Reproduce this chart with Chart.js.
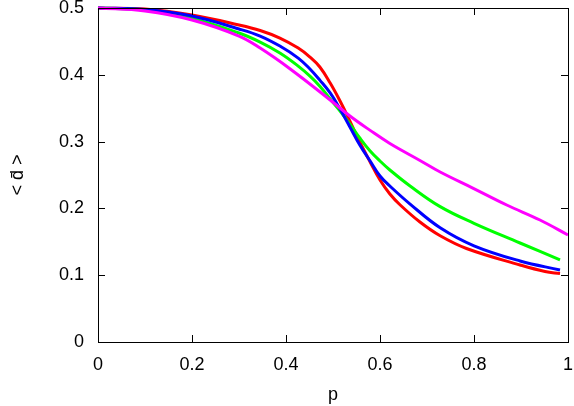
<!DOCTYPE html>
<html>
<head>
<meta charset="utf-8">
<script src="https://cdn.jsdelivr.net/npm/chart.js@4.4.1/dist/chart.umd.min.js"></script>
<style>
  html, body { margin: 0; padding: 0; background: #fff; }
  #wrap { width: 574px; height: 406px; }
</style>
</head>
<body>
<div id="wrap"><canvas id="grafico"></canvas></div>
<script>
// red curve
const pRojo = [0, 0.1, 0.2, 0.3, 0.345, 0.387, 0.426, 0.451, 0.472, 0.494, 0.515, 0.536,
  0.557, 0.579, 0.6, 0.621, 0.643, 0.685, 0.728, 0.784, 0.898, 0.951, 0.983];
const dRojo = [0.500, 0.4985, 0.4895, 0.4746, 0.4663, 0.455, 0.440, 0.4266, 0.4117, 0.3877,
  0.3608, 0.3308, 0.2994, 0.2695, 0.2425, 0.2216, 0.2051, 0.1796, 0.159, 0.140, 0.1153,
  0.1055, 0.1025];

// blue and green share the same p samples
const pAzulVerde = [0, 0.1, 0.2, 0.3, 0.345, 0.387, 0.426, 0.451, 0.472, 0.494, 0.515, 0.536,
  0.557, 0.579, 0.6, 0.621, 0.664, 0.728, 0.8, 0.898, 0.983];
const dAzul = [0.500, 0.4978, 0.488, 0.4686, 0.458, 0.443, 0.425, 0.4087, 0.392, 0.3728,
  0.3488, 0.3219, 0.2949, 0.2710, 0.2485, 0.2335, 0.2065, 0.171, 0.144, 0.1213, 0.1078];
const dVerde = [0.500, 0.497, 0.4843, 0.4626, 0.449, 0.4326, 0.413, 0.398, 0.383, 0.3638,
  0.3458, 0.3263, 0.3054, 0.2859, 0.2710, 0.2575, 0.2335, 0.2026, 0.1777, 0.1482, 0.1228];

// magenta runs to p = 1
const pMagenta = [0, 0.1, 0.2, 0.3, 0.345, 0.409, 0.494, 0.536, 0.579, 0.621, 0.685, 0.728,
  0.7985, 0.8696, 0.9404, 1.0];
const dMagenta = [0.500, 0.4955, 0.482, 0.458, 0.440, 0.4087, 0.3623, 0.3383, 0.3168, 0.2972,
  0.2718, 0.2545, 0.2301, 0.2051, 0.1826, 0.1602];

const xTicks = [0, 0.2, 0.4, 0.6, 0.8, 1];
const yTicks = [0, 0.1, 0.2, 0.3, 0.4, 0.5];

const puntos = (xs, ys) => xs.map((x, i) => ({ x: x, y: ys[i] }));

const fmt = (v) => (v === 0 || v === 1) ? String(v) : v.toFixed(1);

// frame + inward ticks on all four sides, like gnuplot
const marco = {
  id: "marco",
  afterDatasetsDraw(chart) {
    const ctx = chart.ctx;
    const a = chart.chartArea;
    const sx = chart.scales.x;
    const sy = chart.scales.y;
    const largo = 7;
    ctx.save();
    ctx.strokeStyle = "#000";
    ctx.lineWidth = 1;
    ctx.beginPath();
    xTicks.forEach((v) => {
      const px = Math.round(sx.getPixelForValue(v)) + 0.5;
      ctx.moveTo(px, a.bottom);
      ctx.lineTo(px, a.bottom - largo);
      ctx.moveTo(px, a.top);
      ctx.lineTo(px, a.top + largo);
    });
    yTicks.forEach((v) => {
      const py = Math.round(sy.getPixelForValue(v)) + 0.5;
      ctx.moveTo(a.left, py);
      ctx.lineTo(a.left + largo, py);
      ctx.moveTo(a.right, py);
      ctx.lineTo(a.right - largo, py);
    });
    ctx.stroke();
    ctx.strokeRect(Math.round(a.left) + 0.5, Math.round(a.top) + 0.5,
      Math.round(a.right - a.left), Math.round(a.bottom - a.top));
    ctx.restore();
  }
};

const serie = (datos, color) => ({
  data: datos,
  borderColor: color,
  backgroundColor: color,
  borderWidth: 3,
  pointRadius: 0,
  fill: false,
  clip: false,
  tension: 0.4
});

Chart.defaults.font.family = "'Liberation Sans', Arial, sans-serif";
Chart.defaults.font.size = 18;
Chart.defaults.color = "#000";

new Chart(document.querySelector("#grafico"), {
  type: "line",
  data: {
    datasets: [
      serie(puntos(pMagenta, dMagenta), "#ff00ff"),
      serie(puntos(pAzulVerde, dAzul), "#0000ff"),
      serie(puntos(pAzulVerde, dVerde), "#00ff00"),
      serie(puntos(pRojo, dRojo), "#ff0000")
    ]
  },
  options: {
    responsive: true,
    maintainAspectRatio: false,
    animation: false,
    layout: { padding: { top: 8, right: 6, left: 0, bottom: 0 } },
    plugins: {
      legend: { display: false },
      tooltip: { enabled: false }
    },
    scales: {
      x: {
        type: "linear",
        min: 0,
        max: 1,
        afterBuildTicks: (s) => { s.ticks = xTicks.map((v) => ({ value: v })); },
        afterFit: (s) => {
          s.height = 64;
          s.paddingLeft = 0; s.paddingRight = 0;
        },
        grid: { display: false, drawTicks: false },
        border: { display: false },
        ticks: { padding: 12, maxRotation: 0, callback: fmt },
        title: { display: true, text: "p", padding: { top: 6, bottom: 0 } }
      },
      y: {
        min: 0,
        max: 0.5,
        afterBuildTicks: (s) => { s.ticks = yTicks.map((v) => ({ value: v })); },
        afterFit: (s) => {
          s.width = 98;
          s.paddingTop = 0; s.paddingBottom = 0;
        },
        grid: { display: false, drawTicks: false },
        border: { display: false },
        ticks: { padding: 14, callback: fmt },
        title: { display: true, text: "< d\u0304 >", padding: { top: 7, bottom: 0 } }
      }
    }
  },
  plugins: [marco]
});
</script>
</body>
</html>
